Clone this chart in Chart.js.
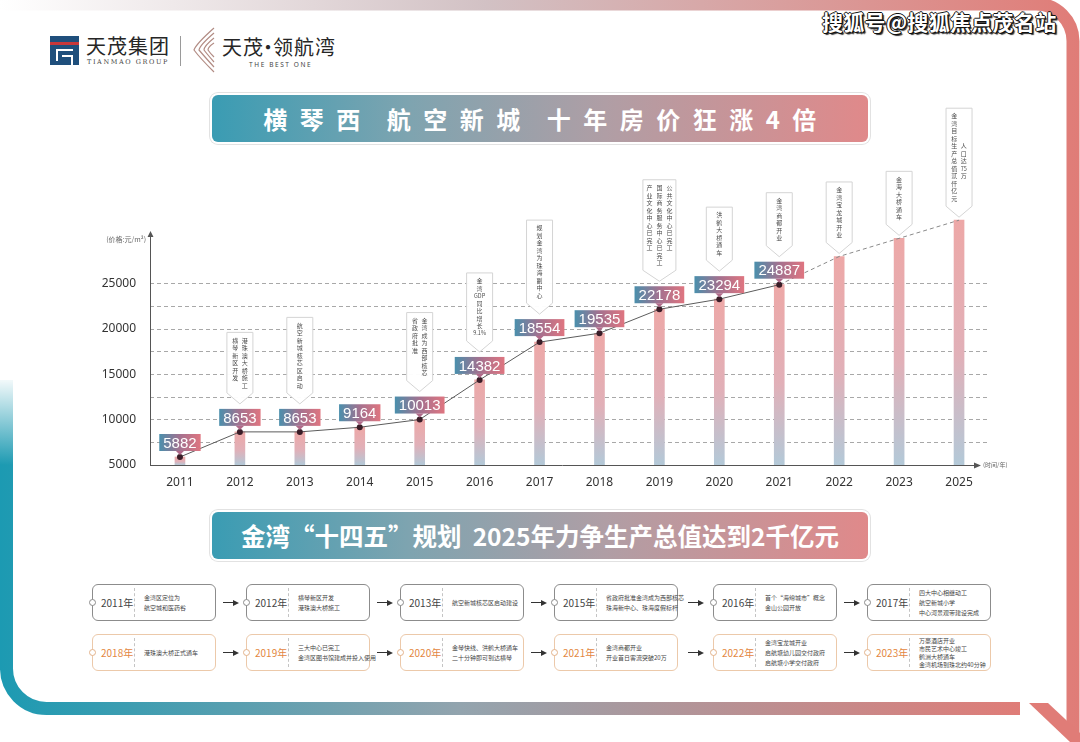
<!DOCTYPE html>
<html lang="zh-CN">
<head>
<meta charset="utf-8">
<title>横琴西 航空新城 十年房价</title>
<script src="https://cdn.jsdelivr.net/npm/chart.js@4.4.1/dist/chart.umd.min.js"></script>
<style>
  * { box-sizing: border-box; }
  html, body { margin: 0; padding: 0; }
  body {
    width: 1080px; height: 742px; position: relative; overflow: hidden; background: #fff;
    font-family: "Noto Sans CJK SC", "Noto Sans", sans-serif; color: #333;
  }
  #frame { position: absolute; left: 0; top: 0; }
  .watermark {
    position: absolute; left: 822px; top: 6px; font-size: 21px; font-weight: 700; color: #fff;
    letter-spacing: 0.3px;
    text-shadow: 1px 1px 0 #111, -1px 0 0 #111, 0 -1px 0 #111, 1px 0 0 #111, 0 1px 0 #111, 2px 2px 1px #333;
  }
  .logo-cn { position: absolute; font-size: 20px; color: #262626; letter-spacing: 1px; }
  .logo-cn .md { display: inline-block; margin: 0 -6px; }
  .logo-en { position: absolute; font-size: 6.5px; color: #444; letter-spacing: 1.6px; font-family: "DejaVu Serif", serif; }
  .banner {
    position: absolute; left: 212px; width: 656px; height: 47px; border-radius: 6px;
    background: linear-gradient(90deg, #3a9cb3 0%, #7ea4b0 30%, #b09ea5 60%, #e0898a 100%);
    box-shadow: 0 0 0 2px #fff, 0 0 0 3px #e2e2e2;
    color: #fff; font-weight: 700; display: flex; align-items: center; justify-content: center;
  }
  #banner1 { top: 95px; font-size: 24px; letter-spacing: 12.5px; padding-left: 12px; }
  #banner1 .gap { display: inline-block; width: 14px; }
  #banner2 { top: 512px; font-size: 24.5px; letter-spacing: 0; }
  #chartWrap { position: absolute; left: 90px; top: 90px; width: 920px; height: 400px; }
  .tl {
    position: absolute; width: 124px; height: 37px; border: 1px solid #8c8c8c; border-radius: 6px; background: #fff;
  }
  .tl .yr { position: absolute; left: 8px; top: 0; height: 100%; display: flex; align-items: center; font-size: 10px; color: #444; }
  .tl .sep { position: absolute; left: 41px; top: 3px; bottom: 3px; border-left: 1px dashed #c4c4c4; }
  .tl .txt {
    position: absolute; left: 51px; right: 2px; top: 0; bottom: 0; display: flex; flex-direction: column;
    justify-content: center; font-size: 6px; line-height: 10px; color: #444; white-space: nowrap;
  }
  .tl .txt.dense { line-height: 8px; }
  .tl .dot {
    position: absolute; left: -4px; top: 50%; margin-top: -3.5px; width: 7px; height: 7px;
    border-radius: 50%; border: 1px solid #8c8c8c; background: #fff;
  }
  .tl.o { border-color: #ecc9aa; }
  .tl.o .yr { color: #e3873f; }
  .tl.o .dot { border-color: #e3b38c; }
  .arrow { position: absolute; height: 1px; background: #333; width: 11px; }
  .arrow::after {
    content: ""; position: absolute; right: -5px; top: -2.5px;
    border-left: 6px solid #333; border-top: 3px solid transparent; border-bottom: 3px solid transparent;
  }
</style>
</head>
<body>

<svg id="frame" width="1080" height="742">
  <defs>
    <linearGradient id="gTop" x1="0" y1="0" x2="1080" y2="0" gradientUnits="userSpaceOnUse">
      <stop offset="0" stop-color="#ffffff"/>
      <stop offset="0.45" stop-color="#d2c1c4"/>
      <stop offset="1" stop-color="#e07c77"/>
    </linearGradient>
    <linearGradient id="gBot" x1="0" y1="0" x2="1025" y2="0" gradientUnits="userSpaceOnUse">
      <stop offset="0" stop-color="#1c9ab2"/>
      <stop offset="0.45" stop-color="#93a4ae"/>
      <stop offset="1" stop-color="#e07c77"/>
    </linearGradient>
    <linearGradient id="gFade" x1="0" y1="0" x2="0" y2="1">
      <stop offset="0" stop-color="#fff" stop-opacity="1"/>
      <stop offset="1" stop-color="#fff" stop-opacity="0"/>
    </linearGradient>
  </defs>
  <path d="M0 4 H1036 A37 37 0 0 1 1073 41 V734" fill="none" stroke="url(#gTop)" stroke-width="13"/>
  <path d="M6.5 380 V668 A40 40 0 0 0 46.5 708.5 H1020" fill="none" stroke="url(#gBot)" stroke-width="13"/>
  <rect x="0" y="375" width="16" height="90" fill="url(#gFade)"/>
  <polygon points="1029,703 1048,703 1080,733 1080,742 1070,742" fill="#e07c77"/>
  <!-- logo marks -->
  <rect x="50" y="36" width="29" height="29" fill="#1f4f7c"/>
  <rect x="50" y="42" width="29" height="3" fill="#c8373a"/>
  <rect x="56" y="49" width="17" height="2" fill="#fff"/>
  <rect x="56" y="49" width="2" height="12" fill="#fff"/>
  <rect x="62" y="55" width="11" height="2" fill="#fff"/>
  <rect x="71" y="55" width="2" height="10" fill="#fff"/>
  <line x1="180.5" y1="36" x2="180.5" y2="66" stroke="#9a9a9a" stroke-width="1"/>
  <g fill="none" stroke="#b28c84" stroke-width="1.2">
    <path d="M214 28 Q196 44 194 50 Q200 58 214 72"/>
    <path d="M214 33 Q200 45 199 50 Q204 56 214 67"/>
    <path d="M214 38 Q204 46 204 50 Q207 54 214 62"/>
    <path d="M214 43 Q208 47 208 50 Q210 53 214 57"/>
  </g>
</svg>

<div class="watermark">搜狐号@搜狐焦点茂名站</div>
<div class="logo-cn" style="left:86px;top:31px;">天茂集团</div>
<div class="logo-en" style="left:87px;top:58px;">TIANMAO GROUP</div>
<div class="logo-cn" style="left:222px;top:32px;">天茂<span class="md">·</span>领航湾</div>
<div class="logo-en" style="left:249px;top:60px;font-family:'Noto Sans',sans-serif;">THE BEST ONE</div>

<div class="banner" id="banner1">横琴西<span class="gap"></span>航空新城<span class="gap"></span>十年房价狂涨4倍</div>
<div class="banner" id="banner2">金湾“十四五”规划&nbsp;&nbsp;2025年力争生产总值达到2千亿元</div>

<div id="chartWrap"><canvas id="priceChart" width="920" height="400"></canvas></div>
<div id="timeline"></div>

<script>
// ── Data ──────────────────────────────────────────────
const years  = ['2011','2012','2013','2014','2015','2016','2017','2018','2019','2020','2021','2022','2023','2025'];
const prices = [5882, 8653, 8653, 9164, 10013, 14382, 18554, 19535, 22178, 23294, 24887, 28000, 30000, 32000];
const labeledCount = 11;           // 2011–2021 carry a price tag, later bars are projections
const yTickLabels = [5000, 10000, 15000, 20000, 25000];

// callout columns, left to right ('　' pushes a column down one slot)
const notes = [
  [],
  ['横琴新区开发', '港珠澳大桥施工'],
  ['航空新城核芯区启动'],
  [],
  ['省政府批准', '金湾成为西部核芯'],
  ['金湾GDP同比增长9.1%'],
  ['规划金湾为珠海副中心'],
  [],
  ['产业文化中心已完工', '国际商务服务中心已完工', '公共文化中心已完工'],
  ['洪鹤大桥通车'],
  ['金湾商都开业'],
  ['金湾宝龙城开业'],
  ['金海大桥通车'],
  ['金湾目标生产总值贰仟亿元', '　　　　人口达75万'],
];

// timeline rows
const tlYearsTop = ['2011年','2012年','2013年','2015年','2016年','2017年'];
const tlNotesTop = [
  ['金湾区定位为', '航空城和医药谷'],
  ['横琴新区开发', '港珠澳大桥施工'],
  ['航空新城核芯区启动建设'],
  ['省政府批准金湾成为西部核芯', '珠海新中心、珠海度假标杆'],
  ['首个“海绵城市”概念', '金山公园开放'],
  ['四大中心相继动工', '航空新城小学', '中心河景观带建设完成'],
];
const tlYearsBottom = ['2018年','2019年','2020年','2021年','2022年','2023年'];
const tlNotesBottom = [
  ['港珠澳大桥正式通车'],
  ['三大中心已完工', '金湾区图书馆建成并投入使用'],
  ['金琴快线、洪鹤大桥通车', '二十分钟即可到达横琴'],
  ['金湾商都开业', '开业首日客流突破20万'],
  ['金湾宝龙城开业', '启航塘幼儿园交付政府', '启航塘小学交付政府'],
  ['万豪酒店开业', '市民艺术中心竣工', '鹤洲大桥通车', '金湾机场到珠北约40分钟'],
];

const $ = id => document.getElementById(id);

// ── Timeline boxes ────────────────────────────────────
const BOX_X = [92, 246, 400, 554, 713, 867];
function buildRow(top, yrs, lines, cls) {
  const host = $('timeline');
  yrs.forEach((yr, i) => {
    const box = document.createElement('div');
    box.className = 'tl' + (cls ? ' ' + cls : '');
    box.style.left = BOX_X[i] + 'px';
    box.style.top = top + 'px';
    box.innerHTML = `<span class="dot"></span><span class="yr">${yr}</span><span class="sep"></span>
      <div class="txt${lines[i].length > 3 ? ' dense' : ''}">${lines[i].map(t => `<span>${t}</span>`).join('')}</div>`;
    host.appendChild(box);
    if (i < yrs.length - 1) {
      const a = document.createElement('div');
      a.className = 'arrow';
      const gapL = BOX_X[i] + 124, gapR = BOX_X[i + 1];
      a.style.left = ((gapL + gapR) / 2 - 8) + 'px';
      a.style.top = (top + 18) + 'px';
      host.appendChild(a);
    }
  });
}
buildRow(584, tlYearsTop, tlNotesTop, '');
buildRow(634, tlYearsBottom, tlNotesBottom, 'o');

// ── Chart helpers ─────────────────────────────────────
function barFill(c) {
  const chart = c.chart;
  if (!chart.chartArea) return '#ddb6bb';
  const top = chart.scales.y.getPixelForValue(prices[c.dataIndex]);
  const g = chart.ctx.createLinearGradient(0, top, 0, chart.chartArea.bottom);
  g.addColorStop(0, '#eda8a7');
  g.addColorStop(0.55, '#e1b0b8');
  g.addColorStop(1, '#b3c9d8');
  return g;
}

function tokens(str) { return str.match(/[A-Za-z0-9.%]+|./gu) || []; }

function drawTag(ctx, cx, dotY, text) {
  ctx.font = '15px "Liberation Sans", Arial, sans-serif';
  const w = ctx.measureText(text).width + 8, h = 17;
  const bottom = dotY - 6, left = cx - w / 2;
  const g = ctx.createLinearGradient(left, 0, left + w, 0);
  g.addColorStop(0, '#4a8fac');
  g.addColorStop(0.5, '#a4718f');
  g.addColorStop(1, '#df7580');
  ctx.fillStyle = g;
  ctx.fillRect(left, bottom - h, w, h);
  ctx.fillStyle = '#b06a8a';
  ctx.beginPath();
  ctx.moveTo(cx - 4, bottom); ctx.lineTo(cx + 4, bottom); ctx.lineTo(cx, bottom + 4); ctx.closePath();
  ctx.fill();
  ctx.fillStyle = '#fff';
  ctx.textAlign = 'center'; ctx.textBaseline = 'middle';
  ctx.fillText(text, cx, bottom - h / 2 + 1);
  return bottom - h;
}

function drawCallout(ctx, cx, tipY, cols) {
  const step = 7.5, pitch = cols.length > 2 ? 10 : 9.5;
  const toks = cols.map(tokens);
  const n = Math.max(...toks.map(t => t.length));
  const w = cols.length > 2 ? 33 : 26;
  const ptr = 11, bodyH = n * step + 8;
  const top = tipY - ptr - bodyH, l = cx - w / 2, r = cx + w / 2;
  ctx.beginPath();
  ctx.moveTo(l, top); ctx.lineTo(r, top); ctx.lineTo(r, top + bodyH);
  ctx.lineTo(cx, tipY); ctx.lineTo(l, top + bodyH); ctx.closePath();
  ctx.fillStyle = 'rgba(255,255,255,0.96)'; ctx.fill();
  ctx.strokeStyle = '#d4d4d4'; ctx.lineWidth = 1; ctx.stroke();
  ctx.fillStyle = '#4a4a4a';
  ctx.textAlign = 'center'; ctx.textBaseline = 'top';
  toks.forEach((t, ci) => {
    const colX = cx + (ci - (cols.length - 1) / 2) * pitch;
    t.forEach((tk, k) => {
      ctx.font = (tk.length > 1 ? '5.5px' : '6px') + ' "Noto Sans CJK SC", sans-serif';
      ctx.fillText(tk, colX, top + 5 + k * step);
    });
  });
}

// ── Decorations plugin ────────────────────────────────
const decor = {
  id: 'decor',
  beforeDatasetsDraw(chart) {
    const { ctx, chartArea: a, scales: { y } } = chart;
    const axTop = y.getPixelForValue(30800);
    ctx.save();
    ctx.strokeStyle = '#555'; ctx.fillStyle = '#555'; ctx.lineWidth = 1;
    ctx.beginPath();
    ctx.moveTo(a.left + 0.5, a.bottom + 0.5); ctx.lineTo(a.left + 0.5, axTop + 5);
    ctx.moveTo(a.left, a.bottom + 0.5); ctx.lineTo(a.right - 14, a.bottom + 0.5);
    ctx.stroke();
    ctx.beginPath();
    ctx.moveTo(a.left + 0.5, axTop); ctx.lineTo(a.left - 2.5, axTop + 6); ctx.lineTo(a.left + 3.5, axTop + 6); ctx.closePath();
    ctx.moveTo(a.right - 8, a.bottom + 0.5); ctx.lineTo(a.right - 15, a.bottom - 2.5); ctx.lineTo(a.right - 15, a.bottom + 3.5); ctx.closePath();
    ctx.fill();
    ctx.font = '7px "Noto Sans CJK SC", sans-serif';
    ctx.fillStyle = '#666'; ctx.textBaseline = 'middle';
    ctx.textAlign = 'right';
    ctx.fillText('(价格:元/m²)', a.left - 4, axTop + 8);
    ctx.textAlign = 'left';
    ctx.font = '6px "Noto Sans CJK SC", sans-serif';
    ctx.fillText('(时间/年)', a.right - 6, a.bottom);
    ctx.restore();
  },
  afterDatasetsDraw(chart) {
    const { ctx, scales: { x, y } } = chart;
    ctx.save();
    years.forEach((yr, i) => {
      const cx = x.getPixelForValue(i);
      const py = y.getPixelForValue(prices[i]);
      let tipY = py - 3;
      if (i < labeledCount) tipY = drawTag(ctx, cx, py, String(prices[i])) - 5;
      if (notes[i].length) drawCallout(ctx, cx, tipY, notes[i]);
    });
    ctx.restore();
  }
};

// ── Chart ─────────────────────────────────────────────
new Chart($('priceChart').getContext('2d'), {
  data: {
    labels: years,
    datasets: [
      {
        type: 'line', label: '均价', data: prices, order: 0,
        borderColor: '#5c5c5c', borderWidth: 1, tension: 0,
        pointRadius: c => c.dataIndex < labeledCount ? 3 : 0,
        pointBackgroundColor: '#3a1d28', pointBorderWidth: 0,
        segment: {
          borderDash: c => c.p0DataIndex >= labeledCount - 1 ? [4, 3] : undefined,
          borderColor: c => c.p0DataIndex >= labeledCount - 1 ? '#8a8a8a' : undefined,
        },
      },
      {
        type: 'bar', label: '房价', data: prices, order: 1,
        backgroundColor: barFill, barThickness: 10, borderWidth: 0,
      },
    ],
  },
  options: {
    responsive: false,
    devicePixelRatio: 1,
    animation: false,
    layout: { padding: { top: 103, right: 21, left: 0, bottom: 0 } },
    plugins: { legend: { display: false }, tooltip: { enabled: false } },
    scales: {
      x: {
        type: 'category', offset: true,
        grid: { display: false }, border: { display: false },
        ticks: { color: '#333', font: { family: 'Noto Sans', size: 12 }, padding: 2, maxRotation: 0, autoSkip: false },
        afterFit: s => { s.height = 25; },
      },
      y: {
        min: 5000, max: 35000,
        border: { display: false, dash: [4, 3] },
        grid: {
          drawTicks: false, lineWidth: 1,
          color: c => (c.tick.value > 5000 && c.tick.value <= 25000) ? '#a8a8a8' : 'rgba(0,0,0,0)',
        },
        ticks: {
          stepSize: 2500, padding: 14, color: '#333', font: { family: 'Noto Sans', size: 12 },
          callback: v => yTickLabels.includes(v) ? String(v) : '',
        },
        afterFit: s => { s.width = 60; },
      },
    },
  },
  plugins: [decor],
});
</script>
</body>
</html>
